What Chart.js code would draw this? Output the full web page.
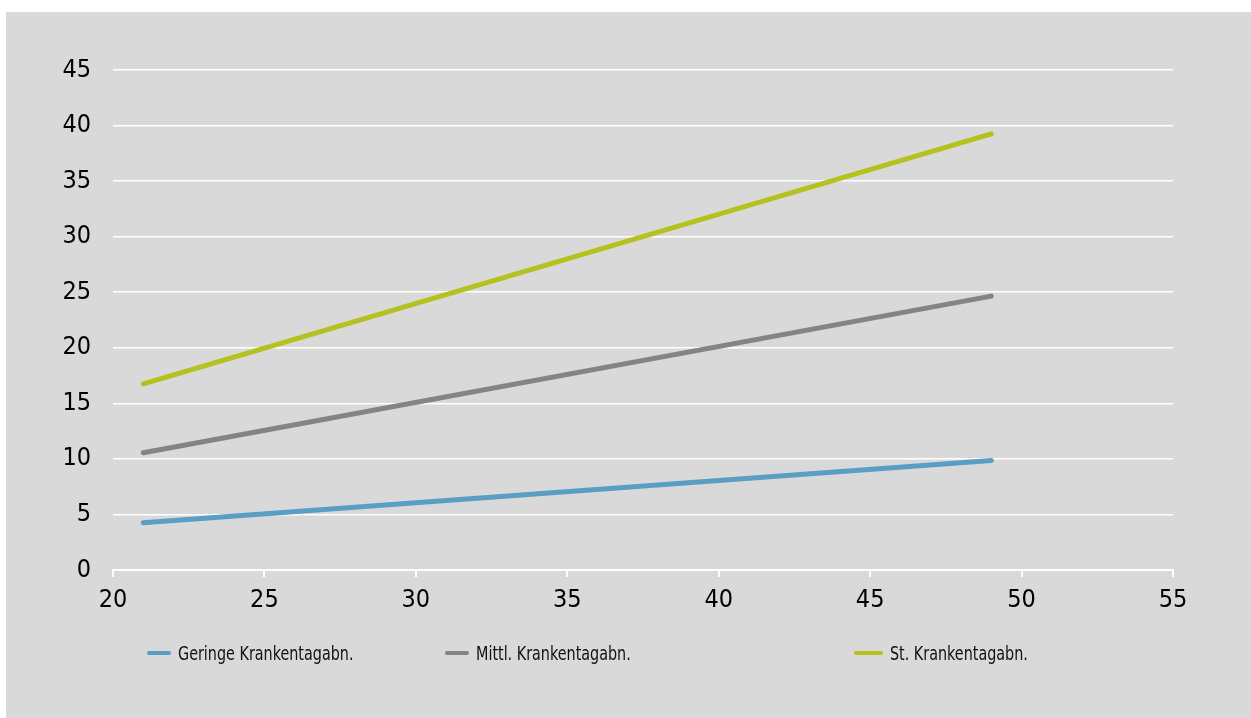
<!DOCTYPE html>
<html>
<head>
<meta charset="utf-8">
<script src="https://cdn.jsdelivr.net/npm/chart.js@4/dist/chart.umd.min.js"></script>
<style>
  html, body { margin: 0; padding: 0; background: #ffffff; width: 1251px; height: 718px; overflow: hidden; }
  #bg { position: absolute; left: 6px; top: 12px; width: 1245px; height: 706px; background: #d9d9d9; }
  #wrap { position: absolute; left: 0; top: 0; width: 1251px; height: 718px; }
  .leg { position: absolute; top: 642px; height: 22px; }
  .leg .sw { position: absolute; top: 9px; height: 4px; border-radius: 2px; }
  .leg .tx { position: absolute; top: 0; left: 0; font-family: "DejaVu Sans Condensed", sans-serif; font-size: 19px; line-height: 22px; color: #111; white-space: nowrap; transform: scaleX(0.84); transform-origin: 0 50%; }
</style>
</head>
<body>
<div id="bg"></div>
<div id="wrap"><canvas id="c" width="1251" height="718"></canvas></div>
<div id="legend"></div>
<script>
// ---- data ----
const seriesNames = ["Geringe Krankentagabn.", "Mittl. Krankentagabn.", "St. Krankentagabn."];
const seriesColors = ["#5b9ec3", "#848386", "#b5c11e"];
const ageX = [21, 49];
const geringe = [4.25, 9.85];
const mittl = [10.55, 24.65];
const stark = [16.75, 39.25];
const xTicks = [20, 25, 30, 35, 40, 45, 50, 55];
const yTicks = [0, 5, 10, 15, 20, 25, 30, 35, 40, 45];

const seriesValues = [geringe, mittl, stark];
const FONT = '"DejaVu Sans Condensed", sans-serif';

const datasets = seriesValues.map((vals, i) => ({
  label: seriesNames[i],
  data: ageX.map((x, j) => ({ x: x, y: vals[j] })),
  borderColor: seriesColors[i],
  backgroundColor: seriesColors[i],
  borderWidth: 5,
  borderCapStyle: 'round',
  pointRadius: 0,
  pointHoverRadius: 0,
  fill: false,
  tension: 0
}));

new Chart(document.getElementById('c'), {
  type: 'line',
  data: { datasets },
  options: {
    responsive: false,
    animation: false,
    events: [],
    layout: { padding: { top: 70, right: 78, bottom: 88, left: 0 } },
    plugins: { legend: { display: false }, tooltip: { enabled: false } },
    scales: {
      x: {
        type: 'linear',
        min: xTicks[0], max: xTicks[xTicks.length - 1],
        afterBuildTicks: s => { s.ticks = xTicks.map(v => ({ value: v })); },
        afterFit: s => { s.height = 60; },
        border: { display: true, color: '#ffffff', width: 2 },
        grid: { drawOnChartArea: false, drawTicks: true, tickLength: 7, color: '#ffffff', lineWidth: 2 },
        ticks: { color: '#000', font: { family: FONT, size: 25 }, padding: 8, maxRotation: 0 }
      },
      y: {
        type: 'linear',
        min: yTicks[0], max: yTicks[yTicks.length - 1],
        afterBuildTicks: s => { s.ticks = yTicks.map(v => ({ value: v })); },
        afterFit: s => { s.width = 113; },
        border: { display: false },
        grid: { drawTicks: false, color: '#ffffff', lineWidth: 1.5 },
        ticks: { color: '#000', font: { family: FONT, size: 25 }, padding: 22 }
      }
    }
  }
});

// legend (HTML, real text)
const legendPos = [{ sw: 147, swW: 24, tx: 178 }, { sw: 445, swW: 24, tx: 476 }, { sw: 854, swW: 29, tx: 890 }];
const legendEl = document.getElementById('legend');
seriesNames.forEach((name, i) => {
  const d = document.createElement('div');
  d.className = 'leg';
  d.style.left = legendPos[i].sw + 'px';
  const sw = document.createElement('span');
  sw.className = 'sw';
  sw.style.left = '0px';
  sw.style.width = legendPos[i].swW + 'px';
  sw.style.background = seriesColors[i];
  const tx = document.createElement('span');
  tx.className = 'tx';
  tx.style.left = (legendPos[i].tx - legendPos[i].sw) + 'px';
  tx.textContent = name;
  d.appendChild(sw);
  d.appendChild(tx);
  legendEl.appendChild(d);
});
</script>
</body>
</html>
